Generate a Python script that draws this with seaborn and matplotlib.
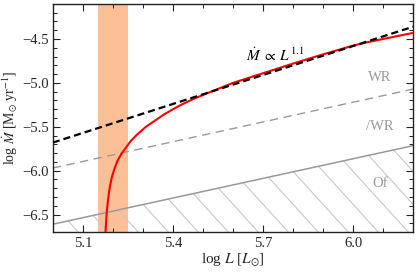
import numpy as np
import pandas as pd
import matplotlib
matplotlib.use("Agg")
import matplotlib.pyplot as plt
import seaborn as sns

# ---- data ----
logL_line = [5.0, 6.2]
black_logM = [-5.68, -4.36]          # Mdot ∝ L^1.1
wr_logM = [-5.97, -5.07]             # WR boundary (dashed grey)
of_logM = [-6.61, -5.715]            # Of boundary (solid grey)

red_logL = [5.1755, 5.178, 5.181, 5.185, 5.19, 5.197, 5.205, 5.215, 5.228, 5.243,
            5.26, 5.28, 5.31, 5.34, 5.37, 5.40, 5.43, 5.47, 5.52, 5.56, 5.60,
            5.65, 5.70, 5.75, 5.80, 5.85, 5.90, 5.95, 6.00, 6.05, 6.10, 6.15, 6.20]
red_logM = [-6.70, -6.55, -6.42, -6.30, -6.18, -6.07, -5.98, -5.89, -5.81, -5.74,
            -5.66, -5.59, -5.50, -5.43, -5.36, -5.30, -5.245, -5.18, -5.11, -5.055, -5.00,
            -4.945, -4.89, -4.835, -4.78, -4.727, -4.675, -4.625, -4.575, -4.535, -4.50, -4.465, -4.43]

band = [5.15, 5.25]
xticks = [5.1, 5.4, 5.7, 6.0]
yticks = [-6.5, -6.0, -5.5, -5.0, -4.5]

labels = ["WR", "/WR", "Of"]
label_x = [6.09, 6.09, 6.09]
label_y = [-4.94, -5.50, -6.15]

sns.set_theme(style="ticks")
plt.rcParams['font.family'] = ['Liberation Serif', 'DejaVu Serif']
plt.rcParams['mathtext.fontset'] = 'stix'
plt.rcParams['axes.unicode_minus'] = True

fig = plt.figure(figsize=(4.16, 2.79), dpi=100)
ax = fig.add_axes([0.127, 0.168, 0.866, 0.818])

xmin, xmax = 5.0, 6.2
ymin, ymax = -6.7, -4.1

ax.axvspan(band[0], band[1], color='#fdbf96', lw=0, zorder=0)

lines = pd.DataFrame({"logL": logL_line, "black": black_logM, "wr": wr_logM, "of": of_logM})
red = pd.DataFrame({"logL": red_logL, "logM": red_logM})

# hatched Of region
poly = ax.fill_between(lines["logL"], ymin - 1, lines["of"], facecolor='none', edgecolor='none')
clip = poly.get_paths()[0]
w_px, h_px = 0.866 * 416, 0.818 * 279
step = 30.0 / w_px
slope = 1.1
for x0 in np.arange(0.0708 - 30 * step, 2.5, step):
    ln, = ax.plot([x0, x0 - h_px / (slope * w_px)], [0, 1], transform=ax.transAxes,
                  color='#c8c8c8', lw=0.8, zorder=1)
    ln.set_clip_path(clip, ax.transData)

sns.lineplot(data=lines, x="logL", y="of", ax=ax, color='#999999', lw=1.1, zorder=2)
sns.lineplot(data=lines, x="logL", y="wr", ax=ax, color='#999999', lw=1.0,
             zorder=2).lines[-1].set_dashes((6, 4))
sns.lineplot(data=red, x="logL", y="logM", ax=ax, color='#ff0000', lw=1.5, sort=False, zorder=3)
l = sns.lineplot(data=lines, x="logL", y="black", ax=ax, color='black', lw=1.6, zorder=4).lines[-1]
l.set_dashes((3.2, 1.8))

ax.text(5.645, -4.68, r'$\dot{M}\;\propto\;L^{1.1}$', fontsize=11, color='black', ha='left', va='center')
for t, x, y in zip(labels, label_x, label_y):
    ax.text(x, y, t, fontsize=10.5, color='#999999', ha='center', va='center')

ax.set_xlim(xmin, xmax)
ax.set_ylim(ymin, ymax)
ax.set_xticks(xticks)
ax.set_xticklabels([f"{t:.1f}" for t in xticks])
ax.set_yticks(yticks)
ax.set_yticklabels([f"{t:.1f}".replace('-', '\u2212') for t in yticks])
ax.xaxis.set_minor_locator(matplotlib.ticker.MultipleLocator(0.1))
ax.yaxis.set_minor_locator(matplotlib.ticker.MultipleLocator(0.1))
ax.tick_params(which='both', direction='in', top=True, right=True, labelsize=10.5, color='#222222')
ax.tick_params(axis='y', which='major', pad=3)
ax.tick_params(which='major', length=5, width=0.8)
ax.tick_params(which='minor', length=2.8, width=0.7)
for s in ax.spines.values():
    s.set_linewidth(1.0)
    s.set_color('#222222')

ax.set_xlabel(r'log $L$ [$L_{\odot}$]', fontsize=11, labelpad=1)
ax.set_ylabel(r'log $\dot{M}$ [M$_{\odot}$ yr$^{-1}$]', fontsize=10)
ax.yaxis.set_label_coords(-0.092, 0.5)

fig.savefig("out.png", dpi=100)
